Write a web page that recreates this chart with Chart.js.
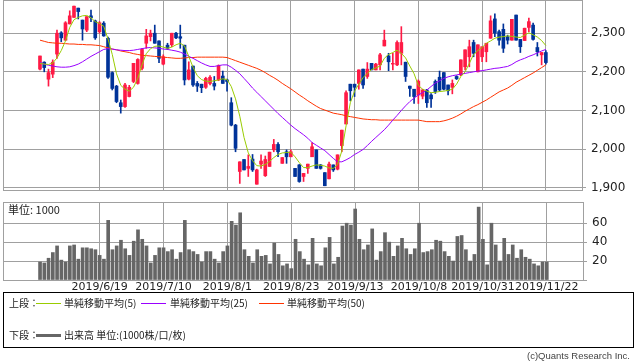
<!DOCTYPE html>
<html>
<head>
<meta charset="utf-8">
<script src="https://cdn.jsdelivr.net/npm/chart.js@4.4.1/dist/chart.umd.min.js"></script>
<style>
  body { margin: 0; background: #fff; width: 638px; height: 362px; position: relative; overflow: hidden; font-family: "DejaVu Sans", sans-serif; }
  canvas { position: absolute; left: 0; }
  #legend { position: absolute; left: 3px; top: 292px; width: 629px; height: 54px; border: 1px solid #000; font-size: 10px; color: #222; font-family: "Noto Sans CJK JP", sans-serif; }
  #legend span { position: absolute; white-space: nowrap; line-height: 14px; }
  #legend svg { position: absolute; left: 0; top: 0; }
  #copy { position: absolute; left: 527px; top: 350px; font-size: 9.5px; color: #444; font-family: "Liberation Sans", sans-serif; }
</style>
</head>
<body>
<canvas id="main" width="638" height="193" style="top:0"></canvas>
<canvas id="vol" width="638" height="100" style="top:195px"></canvas>
<div id="legend">
  <svg width="629" height="54">
    <line x1="32" x2="57" y1="10.5" y2="10.5" stroke="#99cc00" stroke-width="1"/>
    <line x1="137" x2="162" y1="10.5" y2="10.5" stroke="#9900ff" stroke-width="1"/>
    <line x1="255" x2="280" y1="10.5" y2="10.5" stroke="#ff3300" stroke-width="1"/>
    <line x1="32" x2="57" y1="42.5" y2="42.5" stroke="#666" stroke-width="3"/>
  </svg>
  <span style="left:5px;top:3px">上段：</span>
  <span style="left:60px;top:3px">単純移動平均(5)</span>
  <span style="left:166px;top:3px">単純移動平均(25)</span>
  <span style="left:283px;top:3px">単純移動平均(50)</span>
  <span style="left:5px;top:35px">下段：</span>
  <span style="left:60px;top:35px">出来高 単位:(1000株/口/枚)</span>
</div>
<div id="copy">(c)Quants Research Inc.</div>
<script>
// 日付ラベル（ローソク足の位置番号）
const tickIdx = [14, 29, 44, 59, 74, 89, 104, 119];
const tickLabels = ["2019/6/19", "2019/7/10", "2019/8/1", "2019/8/23", "2019/9/13", "2019/10/8", "2019/10/31", "2019/11/22"];

// 四本値
const opens = [2207,2225,2181,2194,2246,2301,2282,2324,2341,2365,2334,2308,2345,2332,2304,2326,2287,2198,2163,2120,
  2110,2136,2175,2170,2209,2274,2291,2300,2280,2220,2269,2270,2300,2291,2269,2181,2215,2170,2168,2160,
  2170,2170,2179,2189,2179,2120,2062,1942,1973,1950,1974,1909,1961,1931,1955,1998,2012,1963,1993,1980,
  1950,1959,1929,1950,1980,1998,1959,1939,1923,1959,1948,2009,2065,2168,2168,2170,2207,2188,2222,2205,
  2218,2267,2241,2220,2218,2248,2225,2163,2155,2140,2137,2153,2140,2175,2186,2198,2166,2160,2188,2192,
  2213,2239,2276,2200,2239,2252,2287,2337,2304,2310,2291,2282,2347,2284,2281,2315,2321,2263,2244,2250];
const highs = [2241,2226,2207,2231,2308,2304,2330,2358,2370,2365,2334,2343,2360,2334,2330,2330,2290,2200,2165,2127,
  2170,2165,2222,2234,2260,2310,2308,2321,2280,2244,2274,2300,2302,2321,2269,2226,2215,2175,2168,2186,
  2190,2188,2218,2202,2181,2133,2064,1967,1973,1985,1986,1948,1985,1982,1992,2025,2017,1978,1998,1998,
  1950,1960,1937,1961,2017,1998,1960,1939,1966,1959,1985,2049,2151,2168,2168,2205,2207,2224,2222,2222,
  2248,2308,2248,2248,2280,2317,2225,2163,2155,2179,2155,2155,2144,2179,2202,2198,2166,2179,2190,2231,
  2257,2282,2282,2270,2265,2274,2345,2350,2308,2324,2295,2336,2347,2284,2313,2339,2326,2276,2250,2255];
const lows = [2205,2200,2163,2185,2235,2278,2281,2324,2341,2337,2282,2304,2330,2284,2300,2292,2183,2153,2120,2093,
  2108,2135,2172,2168,2205,2261,2280,2274,2224,2218,2258,2265,2286,2261,2166,2179,2162,2149,2146,2157,
  2166,2153,2177,2170,2150,2060,1993,1911,1946,1929,1942,1909,1950,1929,1955,1993,1980,1963,1963,1980,
  1929,1914,1916,1937,1980,1950,1948,1905,1923,1942,1946,1993,2065,2125,2136,2155,2157,2183,2205,2205,
  2205,2267,2203,2205,2216,2218,2175,2136,2118,2118,2130,2108,2108,2144,2150,2153,2140,2143,2180,2190,
  2205,2213,2239,2200,2226,2226,2287,2291,2269,2250,2272,2282,2282,2250,2281,2304,2282,2241,2218,2220];
const closes = [2241,2211,2198,2225,2300,2288,2327,2345,2370,2356,2311,2343,2340,2288,2327,2293,2186,2157,2123,2110,
  2166,2160,2222,2232,2258,2293,2300,2274,2235,2239,2261,2300,2288,2287,2179,2205,2166,2163,2159,2183,
  2186,2163,2216,2170,2175,2062,2002,1967,1946,1955,1946,1946,1969,1973,1992,2012,1993,1978,1980,1993,
  1929,1916,1937,1961,2006,1950,1950,1905,1961,1946,1985,2049,2146,2151,2160,2205,2166,2207,2205,2220,
  2244,2282,2226,2222,2276,2276,2188,2157,2136,2176,2153,2120,2130,2149,2153,2155,2151,2170,2182,2231,
  2257,2265,2248,2270,2265,2274,2332,2300,2282,2261,2282,2336,2282,2265,2313,2330,2284,2252,2250,2224];

// 移動平均（チャートから読み取り）
const ma5 = [2222,2220,2219,2223,2236,2255,2280,2315,2335,2341,2345,2346,2340,2330,2325,2318,2285,2245,2195,2165,
  2155,2150,2160,2183,2218,2247,2260,2266,2267,2264,2261,2264,2270,2274,2267,2240,2212,2190,2180,2176,
  2175,2177,2179,2182,2180,2162,2130,2085,2030,1990,1970,1957,1956,1960,1968,1978,1986,1990,1991,1992,
  1980,1965,1952,1952,1956,1959,1958,1956,1951,1950,1960,1995,2060,2120,2150,2168,2185,2196,2206,2210,
  2215,2235,2245,2250,2256,2248,2236,2215,2195,2165,2155,2150,2146,2147,2149,2150,2152,2155,2168,2188,
  2200,2222,2245,2255,2263,2274,2280,2287,2290,2291,2293,2292,2290,2289,2295,2301,2296,2290,2281,2268];
const ma25 = [2224,2220,2217,2215,2213,2212,2212,2213,2216,2220,2226,2233,2240,2246,2252,2258,2260,2259,2257,2256,
  2255,2255,2256,2258,2260,2262,2263,2262,2261,2259,2258,2256,2254,2251,2246,2240,2235,2229,2223,2218,
  2214,2214,2216,2218,2218,2212,2204,2195,2183,2171,2158,2147,2136,2125,2114,2103,2092,2082,2072,2062,
  2053,2045,2037,2028,2017,2010,2003,1996,1986,1976,1967,1967,1972,1978,1986,1992,1999,2009,2020,2030,
  2040,2050,2062,2075,2087,2100,2112,2123,2132,2140,2146,2153,2162,2171,2177,2183,2187,2190,2192,2194,
  2196,2198,2200,2202,2203,2205,2207,2209,2210,2212,2214,2219,2226,2231,2235,2240,2244,2249,2254,2258];
const ma50 = [2282,2279,2276,2275,2274,2274,2273,2272,2272,2271,2271,2270,2270,2269,2268,2265,2262,2259,2257,2254,
  2252,2250,2247,2245,2243,2242,2241,2240,2239,2238,2237,2236,2235,2235,2236,2237,2237,2238,2238,2238,
  2238,2238,2238,2238,2237,2233,2229,2225,2221,2217,2213,2209,2204,2198,2191,2185,2178,2170,2163,2156,
  2148,2140,2133,2125,2118,2111,2105,2101,2097,2093,2091,2089,2086,2084,2082,2080,2078,2077,2076,2076,
  2075,2075,2075,2075,2075,2075,2075,2075,2075,2075,2073,2071,2071,2071,2071,2073,2076,2080,2085,2091,
  2098,2104,2110,2115,2121,2127,2134,2141,2148,2153,2158,2165,2173,2179,2185,2191,2197,2204,2211,2218];

// 出来高（千株）
const volumes = [19,18,23,29,36,21,19,36,37,22,34,34,33,32,26,22,63,32,36,42,
  33,26,41,53,43,36,18,26,34,34,30,32,22,29,63,32,30,27,19,30,
  30,22,18,30,36,62,58,71,32,25,18,32,25,26,17,39,27,15,17,12,
  43,30,22,16,44,17,15,34,45,17,24,57,60,58,75,43,32,37,54,21,
  30,50,40,25,36,44,33,27,33,60,29,30,32,42,41,30,25,20,46,47,
  32,20,27,77,43,16,60,37,20,44,27,37,23,32,24,22,17,15,19,19];

const RED = "#ff1a45";
const BLUE = "#003399";
const GRID = "#a0a0a0";
const X_MIN = -8.7, X_MAX = 127.5;

const candleColor = (ctx) => closes[ctx.dataIndex] >= opens[ctx.dataIndex] ? RED : BLUE;

// 軸ラベルによる自動余白を消す
const noPad = (s) => { s.paddingTop = 0; s.paddingBottom = 0; s.paddingLeft = 0; s.paddingRight = 0; };

const framePlugin = {
  id: "frame",
  afterDraw(chart) {
    const a = chart.chartArea;
    const c = chart.ctx;
    c.save();
    c.strokeStyle = GRID;
    c.lineWidth = 1;
    c.strokeRect(Math.round(a.left) + 0.5, Math.round(a.top) + 0.5, Math.round(a.right - a.left), Math.round(a.bottom - a.top));
    c.restore();
  },
};

const xScaleBase = {
  type: "linear",
  min: X_MIN,
  max: X_MAX,
  offset: false,
  afterBuildTicks: (s) => { s.ticks = tickIdx.map((v) => ({ value: v })); },
  grid: { color: GRID, drawTicks: false, offset: false },
  border: { display: false },
};

const mainChart = new Chart(document.getElementById("main"), {
  type: "bar",
  data: {
    datasets: [
      {
        type: "line", label: "ma5", data: ma5.map((v, i) => ({ x: i, y: v })),
        borderColor: "#99cc00", borderWidth: 1, pointRadius: 0, tension: 0, order: 1,
      },
      {
        type: "line", label: "ma25", data: ma25.map((v, i) => ({ x: i, y: v })),
        borderColor: "#9900ff", borderWidth: 1, pointRadius: 0, tension: 0, order: 1,
      },
      {
        type: "line", label: "ma50", data: ma50.map((v, i) => ({ x: i, y: v })),
        borderColor: "#ff3300", borderWidth: 1, pointRadius: 0, tension: 0, order: 1,
      },
      {
        label: "wick", data: lows.map((v, i) => ({ x: i, y: [v, highs[i]] })),
        backgroundColor: candleColor, barThickness: 1, grouped: false, order: 3,
      },
      {
        label: "body", data: opens.map((v, i) => ({ x: i, y: [v, closes[i]] })),
        backgroundColor: candleColor, barThickness: 3, grouped: false, order: 2,
      },
    ],
  },
  options: {
    responsive: false,
    animation: false,
    layout: { padding: { left: 3, top: 0, right: 0, bottom: 0 } },
    plugins: { legend: { display: false }, tooltip: { enabled: false } },
    scales: {
      x: { ...xScaleBase, ticks: { display: false }, afterFit: (s) => { s.height = 3; noPad(s); } },
      y: {
        position: "right",
        min: 1894,
        max: 2386,
        afterBuildTicks: (s) => { s.ticks = [1900, 2000, 2100, 2200, 2300].map((v) => ({ value: v })); },
        ticks: {
          color: "#222",
          padding: 5,
          font: { family: "DejaVu Sans", size: 12 },
          callback: (v) => v.toLocaleString("en-US"),
        },
        grid: { color: GRID, tickLength: 4 },
        border: { display: false },
        afterFit: (s) => { s.width = 56; noPad(s); },
      },
    },
  },
  plugins: [framePlugin],
});

const volChart = new Chart(document.getElementById("vol"), {
  type: "bar",
  data: {
    datasets: [
      {
        label: "出来高", data: volumes.map((v, i) => ({ x: i, y: v })),
        backgroundColor: "#666", barThickness: 3, grouped: false,
      },
    ],
  },
  options: {
    responsive: false,
    animation: false,
    layout: { padding: { left: 3, top: 7, right: 0, bottom: 0 } },
    plugins: { legend: { display: false }, tooltip: { enabled: false } },
    scales: {
      x: {
        ...xScaleBase,
        ticks: {
          color: "#222",
          padding: 1,
          maxRotation: 0,
          autoSkip: false,
          font: { family: "DejaVu Sans", size: 11 },
          callback: (v) => tickLabels[tickIdx.indexOf(v)],
        },
        afterFit: (s) => { s.height = 15; noPad(s); },
      },
      y: {
        position: "right",
        min: 0,
        max: 82.4,
        afterBuildTicks: (s) => { s.ticks = [0, 20, 40, 60].map((v) => ({ value: v })); },
        ticks: {
          color: "#222",
          padding: 5,
          font: { family: "DejaVu Sans", size: 12 },
          callback: (v) => (v === 0 ? "" : v),
        },
        grid: { color: GRID, tickLength: 4 },
        border: { display: false },
        afterFit: (s) => { s.width = 55; noPad(s); },
      },
    },
  },
  plugins: [
    framePlugin,
    {
      id: "unit",
      afterDraw(chart) {
        const c = chart.ctx;
        c.save();
        c.fillStyle = "#222";
        c.font = "11px 'Noto Sans CJK JP', sans-serif";
        c.textBaseline = "middle";
        c.fillText("単位: 1000", chart.chartArea.left + 5, chart.chartArea.top + 8);
        c.restore();
      },
    },
  ],
});
</script>
</body>
</html>
